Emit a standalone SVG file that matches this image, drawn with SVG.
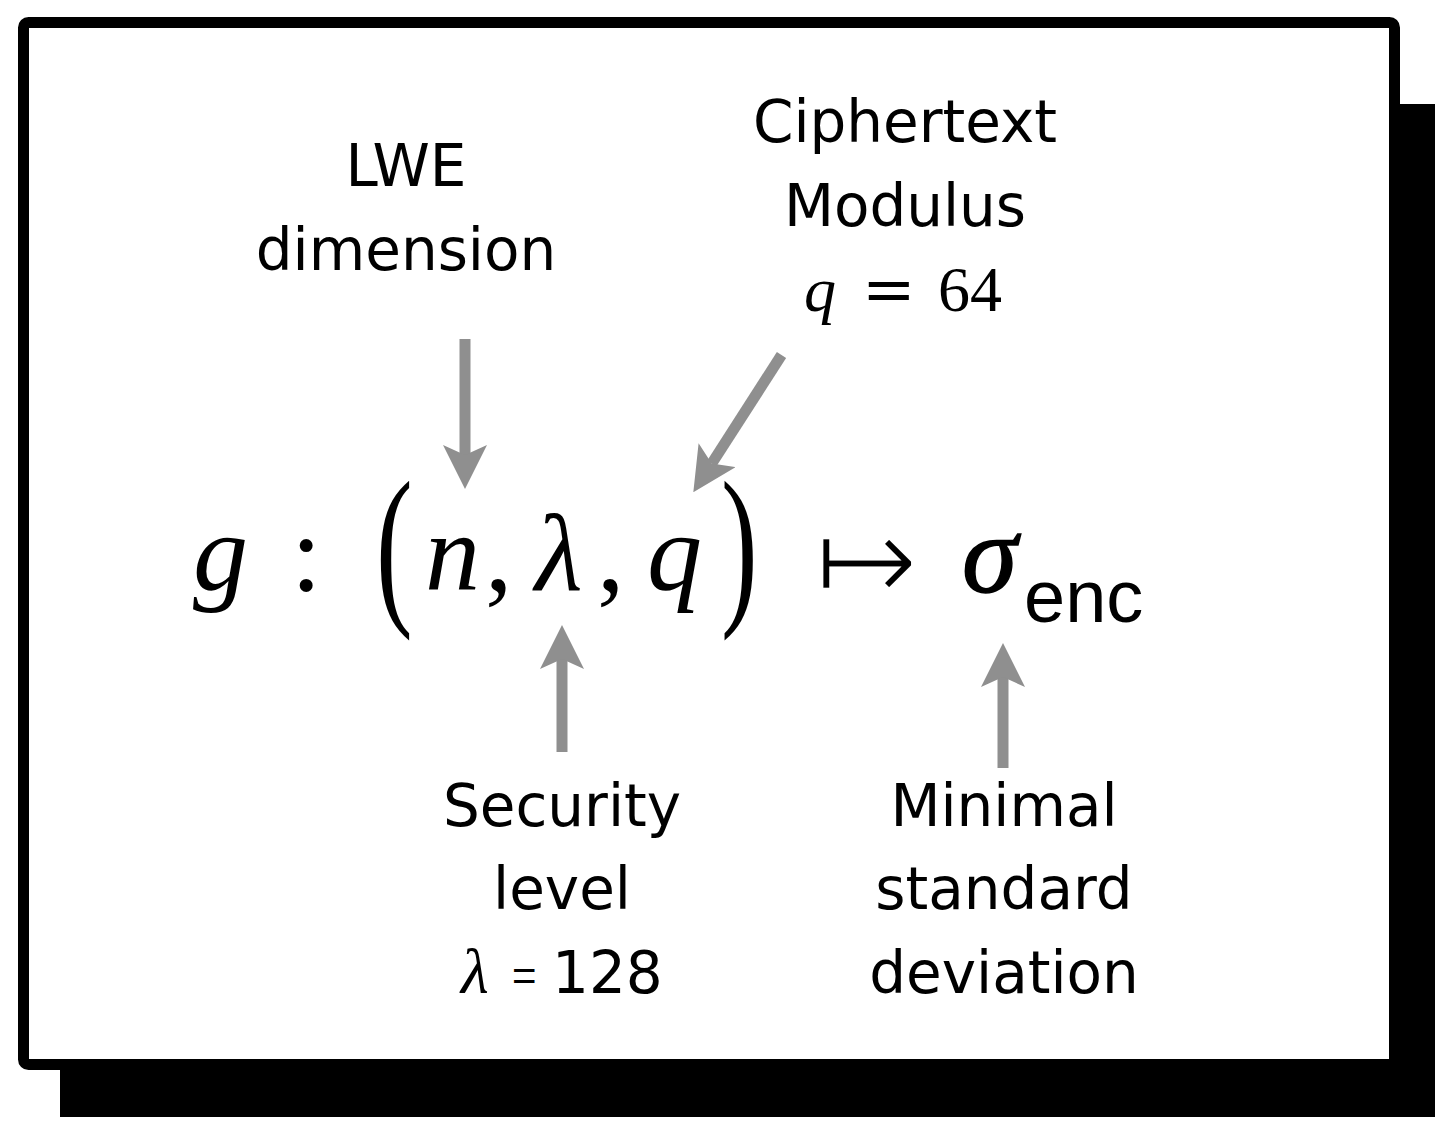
<svg xmlns="http://www.w3.org/2000/svg" width="1435" height="1123" viewBox="0 0 1435 1123">
  <defs>
    <style>
      .lbl { font-family: "DejaVu Sans", "Liberation Sans", sans-serif; font-size: 58px; fill: #000; text-anchor: middle; }
      .math { font-family: "Liberation Serif", "Times New Roman", serif; fill: #000; }
      .it { font-style: italic; }
      .conn { stroke: #8f8f8f; stroke-width: 11; fill: none; marker-end: url(#ah); }
    </style>
    <marker id="ah" viewBox="0 0 44 44" markerUnits="userSpaceOnUse" markerWidth="44" markerHeight="44" refX="10" refY="22" orient="auto">
      <path d="M0,0 L44,22 L0,44 L10,22 Z" fill="#8f8f8f"/>
    </marker>
  </defs>
  <rect width="1435" height="1123" fill="#ffffff"/>
  <rect id="shadow" x="60" y="104" width="1380" height="1013" fill="#000"/>
  <rect id="frame" x="23.5" y="22.5" width="1371" height="1042" rx="5" fill="#fff" stroke="#000" stroke-width="11"/>

  <g id="formula">
    <text class="math it" x="193" y="590" font-size="110">g</text>
    <text class="math" x="291" y="590" font-size="110">:</text>
    <text class="math" font-size="110" transform="translate(376,603) scale(1,1.6)">(</text>
    <text class="math it" x="425" y="590" font-size="110">n</text>
    <text class="math" x="485" y="590" font-size="110">,</text>
    <text class="math it" x="535" y="590" font-size="110">λ</text>
    <text class="math" x="597" y="590" font-size="110">,</text>
    <text class="math it" x="647" y="590" font-size="110">q</text>
    <text class="math" font-size="110" transform="translate(721,603) scale(1,1.6)">)</text>
    <text x="814" y="603" font-family="DejaVu Sans, sans-serif" font-size="126" stroke="#fff" stroke-width="4.5">↦</text>
    <text class="math it" x="962" y="592" font-size="112" stroke="#000" stroke-width="1.5">σ</text>
    <text x="1024" y="622" font-family="Liberation Sans, Arial, sans-serif" font-size="74">enc</text>
  </g>

  <g id="node-lwe">
    <text class="lbl" x="406" y="186">LWE</text>
    <text class="lbl" x="406" y="270">dimension</text>
  </g>

  <g id="node-modulus">
    <text class="lbl" x="905" y="142">Ciphertext</text>
    <text class="lbl" x="905" y="226">Modulus</text>
    <text x="804" y="311" font-size="64"><tspan class="math it">q</tspan><tspan x="862" font-family="DejaVu Serif, serif">=</tspan><tspan class="math" x="938">64</tspan></text>
  </g>

  <g id="node-security">
    <text class="lbl" x="562" y="826">Security</text>
    <text class="lbl" x="562" y="909">level</text>
    <text x="461" y="993"><tspan class="math it" font-size="64">λ</tspan><tspan x="512" y="990" font-family="Liberation Sans, sans-serif" font-size="42">=</tspan><tspan x="552" y="993" font-family="DejaVu Sans, sans-serif" font-size="58">128</tspan></text>
  </g>

  <g id="node-sigma">
    <text class="lbl" x="1004" y="826">Minimal</text>
    <text class="lbl" x="1004" y="909">standard</text>
    <text class="lbl" x="1004" y="993">deviation</text>
  </g>

  <g id="connectors">
    <line class="conn" x1="465" y1="339" x2="465" y2="455"/>
    <line class="conn" x1="781.5" y1="355" x2="711.7" y2="463.6"/>
    <line class="conn" x1="562" y1="752" x2="562" y2="659"/>
    <line class="conn" x1="1003" y1="768" x2="1003" y2="677"/>
  </g>
</svg>
